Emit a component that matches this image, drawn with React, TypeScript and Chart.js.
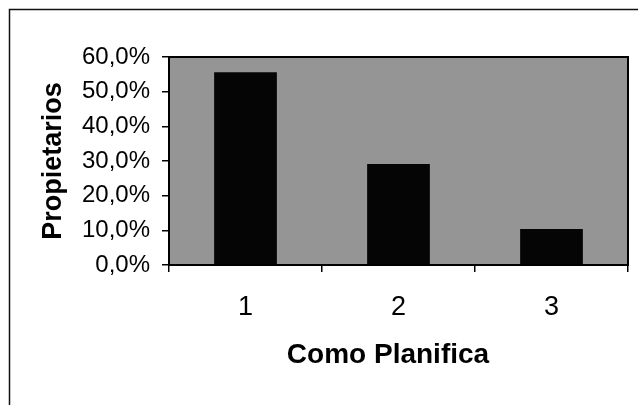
import React, { useEffect, useRef } from "react";
import { Chart, registerables } from "chart.js";

Chart.register(...registerables);

const categories = ["1", "2", "3"];
const values = [55.6, 29.1, 10.4];
const yTicks = [0, 10, 20, 30, 40, 50, 60];
const yTitle = "Propietarios";
const xTitle = "Como Planifica";

const FONT = "'Liberation Sans', Arial, sans-serif";

const decor = {
  id: "decor",
  beforeDraw(chart: any) {
    const { ctx, chartArea: a } = chart;
    ctx.save();
    ctx.fillStyle = "#ffffff";
    ctx.fillRect(0, 0, chart.width, chart.height);
    ctx.fillStyle = "#959595";
    ctx.fillRect(a.left, a.top, a.right - a.left, a.bottom - a.top);
    ctx.restore();
  },
  afterDraw(chart: any) {
    const { ctx, chartArea: a } = chart;
    ctx.save();
    ctx.strokeStyle = "#000";
    ctx.lineWidth = 2;
    ctx.strokeRect(a.left, a.top, a.right - a.left, a.bottom - a.top);
    // outer frame (left and top edges visible)
    ctx.lineWidth = 1.5;
    ctx.strokeStyle = "#111";
    ctx.beginPath();
    ctx.moveTo(9.5, chart.height);
    ctx.lineTo(9.5, 9.5);
    ctx.lineTo(chart.width, 9.5);
    ctx.stroke();
    // x axis title
    ctx.fillStyle = "#000";
    ctx.font = `bold 28px ${FONT}`;
    ctx.textAlign = "center";
    ctx.textBaseline = "middle";
    ctx.fillText(xTitle, 388, 355);
    ctx.restore();
  },
};

export default function App() {
  const ref = useRef<HTMLCanvasElement>(null);
  useEffect(() => {
    if (!ref.current) return;
    const chart = new Chart(ref.current, {
      type: "bar",
      data: {
        labels: categories,
        datasets: [
          {
            data: values,
            backgroundColor: "#050505",
            borderWidth: 0,
            categoryPercentage: 1,
            barPercentage: 0.41,
          },
        ],
      },
      options: {
        animation: false,
        responsive: true,
        maintainAspectRatio: false,
        layout: { padding: { left: 0, top: 57, right: 10, bottom: 0 } },
        plugins: { legend: { display: false }, tooltip: { enabled: false } },
        scales: {
          x: {
            grid: {
              offset: true,
              drawOnChartArea: false,
              drawTicks: true,
              tickLength: 7,
              color: "#000",
              lineWidth: 1.5,
            },
            border: { display: true, color: "#000", width: 2 },
            ticks: {
              color: "#000",
              font: { family: FONT, size: 27 },
              padding: 19,
              maxRotation: 0,
            },
            afterFit(scale: any) {
              scale.height = 140;
            },
          },
          y: {
            min: 0,
            max: 60,
            afterBuildTicks(scale: any) {
              scale.ticks = yTicks.map((v) => ({ value: v }));
            },
            grid: {
              drawOnChartArea: false,
              drawTicks: true,
              tickLength: 7,
              color: "#000",
              lineWidth: 1.5,
            },
            border: { display: true, color: "#000", width: 2 },
            ticks: {
              color: "#000",
              font: { family: FONT, size: 24 },
              padding: 12,
              callback: (v: any) => `${Number(v).toFixed(1).replace(".", ",")}%`,
            },
            title: {
              display: true,
              text: yTitle,
              color: "#000",
              font: { family: FONT, size: 27, weight: "bold" },
              padding: { top: 37, bottom: 0 },
            },
            afterFit(scale: any) {
              scale.width = 169;
            },
          },
        },
      },
      plugins: [decor],
    });
    return () => chart.destroy();
  }, []);
  return (
    <div style={{ position: "fixed", left: 0, top: 0, width: 638, height: 405, background: "#fff" }}>
      <canvas ref={ref} />
    </div>
  );
}
